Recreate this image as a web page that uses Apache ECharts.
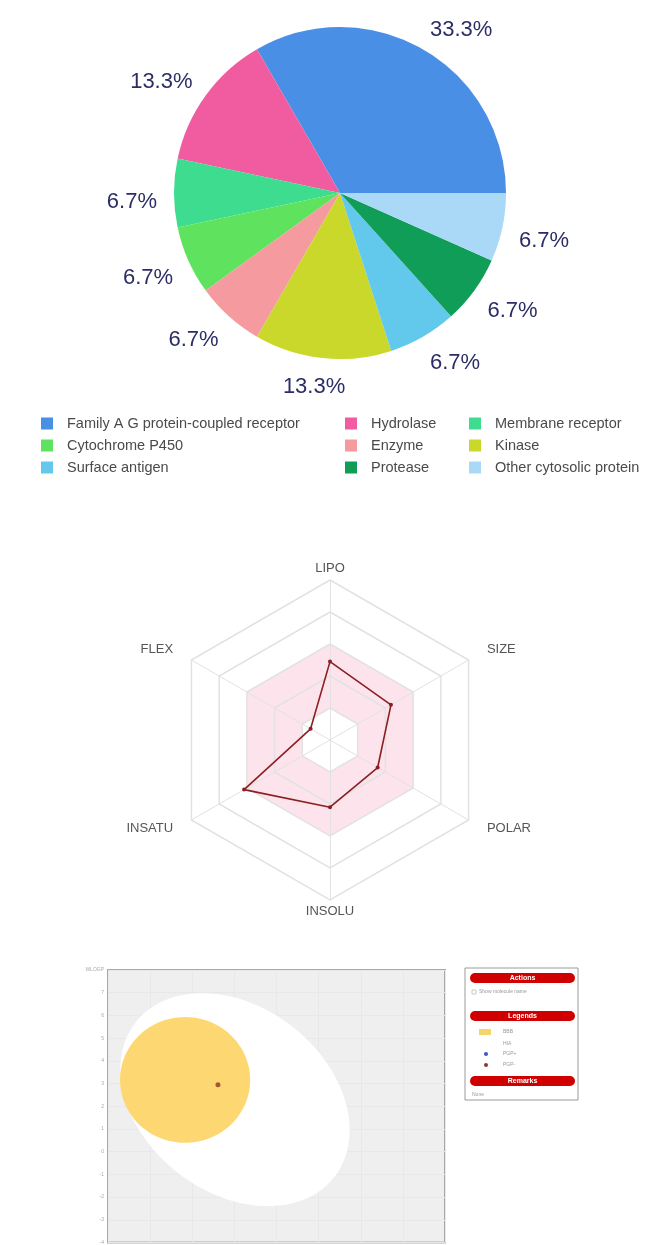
<!DOCTYPE html>
<html>
<head>
<meta charset="utf-8">
<script src="https://cdn.jsdelivr.net/npm/echarts@6/dist/echarts.min.js"></script>
<style>
  html, body { margin: 0; padding: 0; background: #ffffff; }
  #chart { width: 651px; height: 1245px; }
</style>
</head>
<body>
<div id="chart"></div>
<script>
// Target classes of the compound (counts of predicted targets)
const targetClasses = [
  'Family A G protein-coupled receptor', 'Hydrolase', 'Membrane receptor',
  'Cytochrome P450', 'Enzyme', 'Kinase',
  'Surface antigen', 'Protease', 'Other cytosolic protein'
];
const targetCounts = [5, 2, 1, 1, 1, 2, 1, 1, 1];
const targetColors = [
  '#4a8fe6', '#f05c9f', '#3ddc8e',
  '#5fe35f', '#f59a9e', '#c9d82a',
  '#62c8ec', '#0f9d58', '#a9d9f6'
];

// Bioavailability radar (scaled 0..5, pink band = optimal range)
const radarAxes = ['LIPO', 'FLEX', 'INSATU', 'INSOLU', 'POLAR', 'SIZE'];
const radarValues = [2.45, 0.7, 3.1, 2.1, 1.72, 2.2];

// BOILED-Egg regions: centre (TPSA, WLOGP) and two conjugate semi-axis vectors
const eggRegions = ['HIA', 'BBB'];
const eggCentres = [[60.3, 2.29], [36.6, 3.16]];
const eggAxisU = [[47.15, -3.41], [30.9, 0]];
const eggAxisV = [[-27.2, -3.22], [0, 2.77]];
const eggColors = ['#ffffff', '#fdd872'];

// Molecule position (TPSA, WLOGP)
const moleculePoint = [[52.2, 2.95]];

const FONT = 'Liberation Sans, Arial, sans-serif';
const PIE_CENTER = [340, 193];
const chart = echarts.init(document.getElementById('chart'), null, { renderer: 'canvas' });

const totalTargets = targetCounts.reduce((a, b) => a + b, 0);

const legendColumns = [
  [targetClasses[0], targetClasses[3], targetClasses[6]],
  [targetClasses[1], targetClasses[4], targetClasses[7]],
  [targetClasses[2], targetClasses[5], targetClasses[8]]
];
const legendLefts = [36, 340, 464];

const legends = legendColumns.map((col, i) => ({
  data: col,
  orient: 'vertical',
  left: legendLefts[i],
  top: 411,
  itemWidth: 12,
  itemHeight: 12,
  itemGap: 7,
  icon: 'rect',
  selectedMode: false,
  textStyle: { fontFamily: FONT, fontSize: 14.5, color: '#4a4a4a', padding: [0, 0, 0, 9] }
}));

function eggRender(params, api) {
  const cx = api.value(0), cy = api.value(1);
  const ux = api.value(2), uy = api.value(3);
  const vx = api.value(4), vy = api.value(5);
  const pts = [];
  const n = 96;
  for (let k = 0; k < n; k++) {
    const t = (k / n) * Math.PI * 2;
    pts.push(api.coord([
      cx + ux * Math.cos(t) + vx * Math.sin(t),
      cy + uy * Math.cos(t) + vy * Math.sin(t)
    ]));
  }
  return {
    type: 'polygon',
    shape: { points: pts },
    style: { fill: eggColors[params.dataIndex] }
  };
}

// Percent labels hug the pie a little, and the lower ones drop slightly
function pieLabelLayout(params) {
  const r = params.labelRect;
  const mx = r.x + r.width / 2;
  const my = r.y + r.height / 2;
  const rel = mx - PIE_CENTER[0];
  let dx = rel < 0 ? 10 : -10;
  if (Math.abs(rel) < 80) dx = -rel * 0.55;
  return {
    dx: dx,
    dy: my > PIE_CENTER[1] - 10 ? 9 : -2
  };
}

const panelText = { fontFamily: FONT, fontSize: 5, fill: '#999' };
function panelBar(y, label) {
  return {
    type: 'group',
    children: [
      { type: 'rect', shape: { x: 470, y: y, width: 105, height: 10, r: 5 },
        style: { fill: '#d00000' } },
      { type: 'text', x: 522.5, y: y + 5,
        style: { text: label, fill: '#ffffff', fontSize: 7, fontWeight: 'bold',
                 fontFamily: FONT, align: 'center', verticalAlign: 'middle' } }
    ]
  };
}

// side labels of the radar sit a little further out than the top/bottom ones
const radarNameStyle = name => {
  if (name === 'LIPO' || name === 'INSOLU') return 'v';
  if (name === 'FLEX' || name === 'SIZE') return 'up';
  return 'dn';
};

const option = {
  backgroundColor: '#ffffff',
  animation: false,
  legend: legends,
  radar: {
    center: [330, 740],
    radius: 160,
    startAngle: 90,
    splitNumber: 5,
    shape: 'polygon',
    nameGap: 5,
    axisName: {
      color: '#555', fontSize: 13, fontFamily: FONT,
      formatter: name => '{' + radarNameStyle(name) + '|' + name + '}',
      rich: {
        v: { color: '#555', fontSize: 13, fontFamily: FONT },
        up: { color: '#555', fontSize: 13, fontFamily: FONT, padding: [0, 14, 16, 14] },
        dn: { color: '#555', fontSize: 13, fontFamily: FONT, padding: [12, 14, 0, 14] }
      }
    },
    indicator: radarAxes.map(n => ({ name: n, min: 0, max: 5 })),
    axisLine: { lineStyle: { color: '#e2e2e2' } },
    splitLine: { lineStyle: { color: '#e2e2e2', width: 1.5 } },
    splitArea: { show: true, areaStyle: { color: ['#ffffff', '#fde4ec', '#fde4ec', '#ffffff', '#ffffff'] } }
  },
  grid: {
    left: 108, right: 206, top: 970, bottom: 2,
    show: true, backgroundColor: '#efefef', borderColor: '#a9a9a9', borderWidth: 2
  },
  xAxis: {
    type: 'value', min: 0, max: 160, interval: 20,
    axisLine: { show: false }, axisTick: { show: false }, axisLabel: { show: false },
    splitLine: { lineStyle: { color: '#e8e8e8' } }
  },
  yAxis: {
    type: 'value', min: -4, max: 8, interval: 1,
    axisLine: { show: false }, axisTick: { show: false },
    axisLabel: {
      fontSize: 5, color: '#aaa', margin: 4,
      formatter: v => (v === 8 ? 'WLOGP' : String(v))
    },
    splitLine: { lineStyle: { color: '#e8e8e8' } }
  },
  series: [
    {
      type: 'pie',
      name: 'Target classes',
      center: PIE_CENTER,
      radius: 166,
      startAngle: 0,
      clockwise: false,
      data: targetClasses.map((n, i) => ({ name: n, value: targetCounts[i], itemStyle: { color: targetColors[i] } })),
      label: {
        show: true, position: 'outside',
        formatter: p => (p.value / totalTargets * 100).toFixed(1) + '%',
        fontFamily: FONT, fontSize: 22, color: '#2c2d66'
      },
      labelLine: { show: false, length: 20, length2: 2 },
      labelLayout: pieLabelLayout,
      emphasis: { disabled: true }
    },
    {
      type: 'radar',
      name: 'Bioavailability',
      symbol: 'circle',
      symbolSize: 4,
      lineStyle: { color: '#8a1f24', width: 1.6 },
      itemStyle: { color: '#8a1f24' },
      data: [{ value: radarValues, name: 'Molecule' }]
    },
    {
      type: 'custom',
      name: 'Egg',
      renderItem: eggRender,
      dimensions: ['x', 'y', 'ux', 'uy', 'vx', 'vy'],
      encode: { x: 0, y: 1 },
      data: eggRegions.map((n, i) => ({
        name: n,
        value: [eggCentres[i][0], eggCentres[i][1], eggAxisU[i][0], eggAxisU[i][1], eggAxisV[i][0], eggAxisV[i][1]]
      })),
      silent: true,
      z: 1
    },
    {
      type: 'scatter',
      name: 'PGP-',
      data: moleculePoint,
      symbolSize: 5,
      itemStyle: { color: '#8b3a26' },
      z: 3
    }
  ],
  graphic: [
    { type: 'rect', shape: { x: 465, y: 968, width: 113, height: 132 },
      style: { fill: '#ffffff', stroke: '#9a9a9a', lineWidth: 1 } },
    panelBar(973, 'Actions'),
    { type: 'rect', shape: { x: 472, y: 990, width: 4, height: 4 }, style: { fill: '#fff', stroke: '#aaa', lineWidth: 0.6 } },
    { type: 'text', x: 479, y: 992, style: Object.assign({ text: 'Show molecule name', verticalAlign: 'middle' }, panelText) },
    panelBar(1011, 'Legends'),
    { type: 'rect', shape: { x: 479, y: 1029, width: 12, height: 6 }, style: { fill: '#f5d46a' } },
    { type: 'text', x: 503, y: 1032, style: Object.assign({ text: 'BBB', verticalAlign: 'middle' }, panelText) },
    { type: 'text', x: 503, y: 1044, style: Object.assign({ text: 'HIA', verticalAlign: 'middle' }, panelText) },
    { type: 'circle', shape: { cx: 486, cy: 1054, r: 2 }, style: { fill: '#3a55c8' } },
    { type: 'text', x: 503, y: 1054, style: Object.assign({ text: 'PGP+', verticalAlign: 'middle' }, panelText) },
    { type: 'circle', shape: { cx: 486, cy: 1065, r: 2 }, style: { fill: '#8b3a26' } },
    { type: 'text', x: 503, y: 1065, style: Object.assign({ text: 'PGP-', verticalAlign: 'middle' }, panelText) },
    panelBar(1076, 'Remarks'),
    { type: 'text', x: 472, y: 1095, style: Object.assign({ text: 'None', verticalAlign: 'middle' }, panelText) }
  ]
};

chart.setOption(option);
</script>
</body>
</html>
